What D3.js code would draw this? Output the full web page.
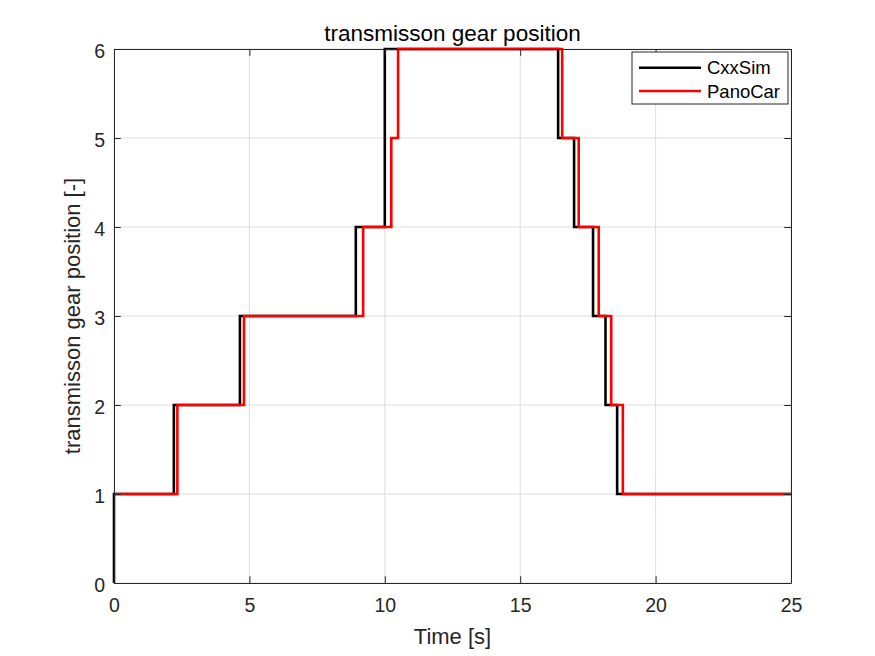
<!DOCTYPE html>
<html>
<head>
<meta charset="utf-8">
<script src="https://cdn.jsdelivr.net/npm/d3@7"></script>
<style>
  body { margin: 0; background: #fff; }
  svg { font-family: "Liberation Sans", Arial, sans-serif; }
</style>
</head>
<body>
<script>
// gear step data
const cxxTime  = [0, 0, 2.21, 4.65, 8.93, 10.0, 16.4, 16.99, 17.69, 18.15, 18.58, 25];
const cxxGear  = [0, 1, 2, 3, 4, 6, 5, 4, 3, 2, 1, 1];
const panoTime = [0, 2.34, 4.8, 9.2, 10.24, 10.49, 16.55, 17.16, 17.9, 18.36, 18.79, 25];
const panoGear = [1, 2, 3, 4, 5, 6, 5, 4, 3, 2, 1, 1];
const xTicks = [0, 5, 10, 15, 20, 25];
const yTicks = [0, 1, 2, 3, 4, 5, 6];
const seriesNames = ["CxxSim", "PanoCar"];
const seriesColors = ["#000000", "#ff0000"];

const W = 875, H = 656;
const plotL = 114, plotR = 791, plotT = 49, plotB = 583;
const tickLen = 6.8;
const textCol = "#262626";

const svg = d3.select("body").append("svg")
  .attr("width", W).attr("height", H);

const x = d3.scaleLinear().domain([0, 25]).range([plotL, plotR]);
const y = d3.scaleLinear().domain([0, 6]).range([plotB, plotT]);

// grid
const grid = svg.append("g").attr("stroke", "#dedede").attr("stroke-width", 1);
grid.selectAll(".gx").data(xTicks).join("line")
  .attr("x1", d => x(d)).attr("x2", d => x(d))
  .attr("y1", plotT).attr("y2", plotB);
grid.selectAll(".gy").data(yTicks).join("line")
  .attr("x1", plotL).attr("x2", plotR)
  .attr("y1", d => y(d)).attr("y2", d => y(d));

// lines
const line = d3.line()
  .x(d => x(d[0])).y(d => y(d[1]))
  .curve(d3.curveStepAfter);

const series = [
  d3.zip(cxxTime, cxxGear),
  d3.zip(panoTime, panoGear)
];

svg.append("g").selectAll("path").data(series).join("path")
  .attr("d", line)
  .attr("fill", "none")
  .attr("stroke", (d, i) => seriesColors[i])
  .attr("stroke-width", 2.6);

// axes (MATLAB style: ticks inside, box on)
const fmt = d3.format("d");
const xAxis = d3.axisBottom(x).tickValues(xTicks).tickFormat(fmt)
  .tickSizeInner(-tickLen).tickSizeOuter(0).tickPadding(15);
const yAxis = d3.axisLeft(y).tickValues(yTicks).tickFormat(fmt)
  .tickSizeInner(-tickLen).tickSizeOuter(0).tickPadding(9);

const gx = svg.append("g").attr("transform", `translate(0,${plotB})`).call(xAxis);
const gy = svg.append("g").attr("transform", `translate(${plotL},0)`).call(yAxis);
[gx, gy].forEach(g => {
  g.select(".domain").attr("stroke", textCol);
  g.selectAll(".tick line").attr("stroke", textCol);
  g.selectAll(".tick text").attr("fill", textCol)
    .style("font-size", "19.5px")
    .style("font-family", "'Liberation Sans', Arial, sans-serif");
});
gy.selectAll(".tick text").attr("dy", "0.45em");

// top / right ticks
const gt = svg.append("g").attr("transform", `translate(0,${plotT})`)
  .call(d3.axisTop(x).tickValues(xTicks).tickSizeInner(-tickLen).tickSizeOuter(0).tickFormat(""));
const gr = svg.append("g").attr("transform", `translate(${plotR},0)`)
  .call(d3.axisRight(y).tickValues(yTicks).tickSizeInner(-tickLen).tickSizeOuter(0).tickFormat(""));
[gt, gr].forEach(g => {
  g.select(".domain").attr("stroke", textCol);
  g.selectAll(".tick line").attr("stroke", textCol);
});

// labels
svg.append("text")
  .attr("x", (plotL + plotR) / 2).attr("y", 40.5)
  .attr("text-anchor", "middle")
  .attr("fill", "#000")
  .style("font-size", "22.5px")
  .text("transmisson gear position");

svg.append("text")
  .attr("x", (plotL + plotR) / 2).attr("y", 644)
  .attr("text-anchor", "middle")
  .attr("fill", textCol)
  .style("font-size", "22px")
  .text("Time [s]");

svg.append("text")
  .attr("transform", `translate(80,${(plotT + plotB) / 2}) rotate(-90)`)
  .attr("text-anchor", "middle")
  .attr("fill", textCol)
  .style("font-size", "22px")
  .text("transmisson gear position [-]");

// legend
const lg = svg.append("g").attr("transform", "translate(632,52)");
lg.append("rect")
  .attr("width", 156).attr("height", 52)
  .attr("fill", "#fff").attr("stroke", textCol).attr("stroke-width", 1);
const items = lg.selectAll(".item").data(seriesNames).join("g")
  .attr("transform", (d, i) => `translate(0,${15.7 + i * 23.3})`);
items.append("line")
  .attr("x1", 7).attr("x2", 69)
  .attr("stroke", (d, i) => seriesColors[i])
  .attr("stroke-width", 2.6);
items.append("text")
  .attr("x", 75).attr("y", 6.5)
  .attr("fill", "#000")
  .style("font-size", "18.5px")
  .text(d => d);
</script>
</body>
</html>
